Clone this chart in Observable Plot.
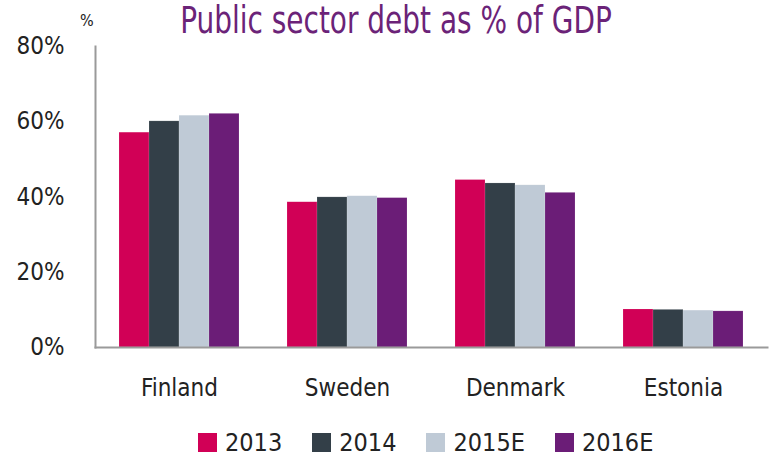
<!DOCTYPE html>
<html>
<head>
<meta charset="utf-8">
<script src="https://cdn.jsdelivr.net/npm/d3@7"></script>
<script src="https://cdn.jsdelivr.net/npm/@observablehq/plot@0.6"></script>
<style>
  html, body { margin: 0; padding: 0; background: #fff; }
  body { width: 769px; height: 462px; overflow: hidden; font-family: "DejaVu Sans Condensed", "DejaVu Sans", sans-serif; font-stretch: condensed; }
  #wrap { position: relative; width: 769px; }
  #title { position: relative; height: 20px; z-index: 2; }
  #title .t { position: absolute; left: 0; width: 792px; text-align: center; top: 0px; font-size: 37px; color: #6b2378; line-height: 42px; white-space: nowrap; transform: scaleX(0.84); transform-origin: 396px 0; }
  #title .u { position: absolute; left: 80px; top: 11px; font-size: 16px; color: #222; }
  #chart svg { background: transparent !important; }
  #legend { display: flex; align-items: center; height: 50px; padding-top: 10px; padding-left: 198px; box-sizing: border-box; font-size: 25px; color: #222; }
  #legend .item { display: flex; align-items: center; margin-right: 30px; }
  #legend .sw { width: 19px; height: 19px; margin-right: 8px; }
</style>
</head>
<body>
<div id="wrap">
  <div id="title"><span class="u">%</span><div class="t">Public sector debt as % of GDP</div></div>
  <div id="chart"></div>
  <div id="legend"></div>
</div>
<script>
const countries = ["Finland", "Sweden", "Denmark", "Estonia"];
const years = ["2013", "2014", "2015E", "2016E"];
const v2013 = [57.1, 38.6, 44.5, 10.1];
const v2014 = [60.1, 39.9, 43.6, 10.0];
const v2015E = [61.6, 40.2, 43.1, 9.8];
const v2016E = [62.1, 39.7, 41.1, 9.6];
const colors = ["#d10056", "#333f48", "#bfcad6", "#6b1d77"];
const yTicks = [0, 20, 40, 60, 80];

const series = [v2013, v2014, v2015E, v2016E];
const data = [];
countries.forEach((c, i) => {
  years.forEach((y, j) => data.push({country: c, year: y, value: series[j][i]}));
});

const font = '"DejaVu Sans Condensed", "DejaVu Sans", sans-serif';

const chart = Plot.plot({
  width: 769,
  height: 392,
  marginTop: 26,
  marginBottom: 65,
  marginLeft: 93,
  marginRight: 1,
  style: {fontFamily: font, fontSize: "24px", color: "#222", background: "transparent", fontStretch: "condensed"},
  fx: {domain: countries, paddingInner: 0, paddingOuter: 0, label: null, axis: null},
  x: {domain: years, paddingInner: 0, paddingOuter: 0.744, axis: null},
  y: {domain: [0, 80], label: null, axis: null},
  color: {domain: years, range: colors},
  marks: [
    Plot.barY(data, {fx: "country", x: "year", y: "value", fill: "year", inset: 0, stroke: "white", strokeOpacity: 0.25, strokeWidth: 0.5}),
    Plot.axisY({ticks: yTicks, tickFormat: d => d + "%", tickSize: 0, tickPadding: 31, fontSize: 24, fill: "#222", label: null}),
    Plot.axisFx({anchor: "bottom", tickSize: 0, tickPadding: 31, fontSize: 24, fill: "#222", label: null}),
    Plot.frame({anchor: "bottom", stroke: "#9a9a9a", strokeWidth: 2, facet: "super"}),
    Plot.frame({anchor: "left", stroke: "#9a9a9a", strokeWidth: 2, facet: "super"})
  ]
});
document.getElementById("chart").appendChild(chart);

const legend = document.getElementById("legend");
years.forEach((y, j) => {
  const item = document.createElement("div");
  item.className = "item";
  const sw = document.createElement("span");
  sw.className = "sw";
  sw.style.background = colors[j];
  const t = document.createElement("span");
  t.textContent = y;
  item.appendChild(sw);
  item.appendChild(t);
  legend.appendChild(item);
});
</script>
</body>
</html>
